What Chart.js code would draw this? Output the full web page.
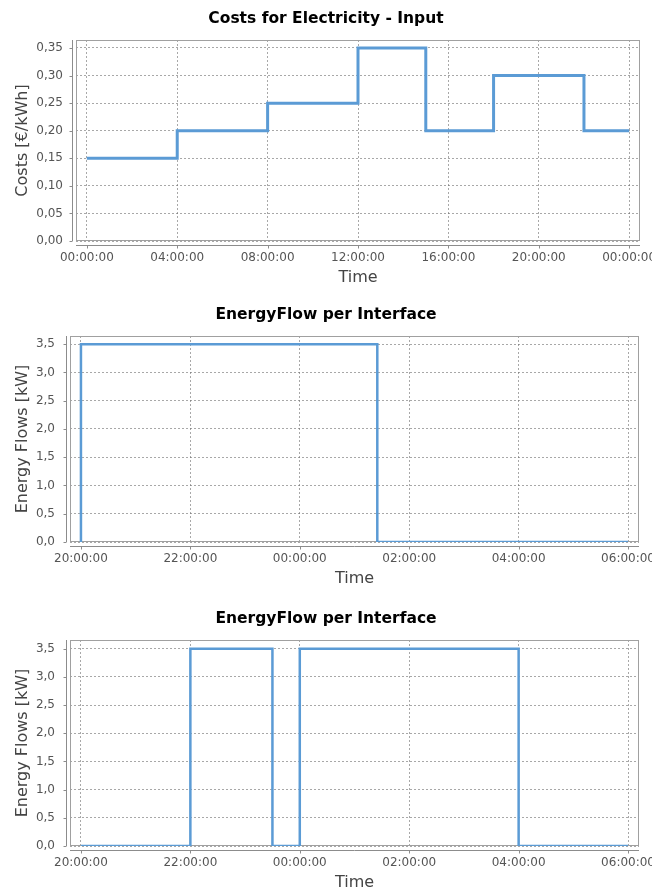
<!DOCTYPE html>
<html>
<head>
<meta charset="utf-8">
<script src="https://cdn.jsdelivr.net/npm/chart.js@4/dist/chart.umd.min.js"></script>
<style>
  html, body { margin: 0; padding: 0; background: #fff; }
  #page { position: relative; width: 666px; height: 893px; background: #fff; }
  #page canvas { position: absolute; left: 0; }
</style>
</head>
<body>
<div id="page">
  <canvas id="costChart"  width="652" height="296" style="top:0px"></canvas>
  <canvas id="flowChartA" width="652" height="304" style="top:296px"></canvas>
  <canvas id="flowChartB" width="652" height="293" style="top:600px"></canvas>
</div>
<script>
// Electricity price per period (start hour of day -> €/kWh), last point closes the day
const costHours  = [0, 4, 8, 12, 15, 18, 22, 24];
const costValues = [0.15, 0.20, 0.25, 0.35, 0.20, 0.30, 0.20, 0.20];

// Energy flow, first interface (hours counted from midnight of the first day, kW)
const flowAHours  = [20, 20, 25 + 25 / 60, 30];
const flowAValues = [0, 3.5, 0, 0];

// Energy flow, second interface
const flowBHours  = [20, 22, 23.5, 24, 28, 30];
const flowBValues = [0, 3.5, 0, 3.5, 0, 0];

// Axis ticks
const costXTicks      = [0, 4, 8, 12, 16, 20, 24];
const costXTickLabels = ['00:00:00', '04:00:00', '08:00:00', '12:00:00', '16:00:00', '20:00:00', '00:00:00'];
const costYTicks      = [0, 0.05, 0.10, 0.15, 0.20, 0.25, 0.30, 0.35];
const costYTickLabels = ['0,00', '0,05', '0,10', '0,15', '0,20', '0,25', '0,30', '0,35'];

const flowXTicks      = [20, 22, 24, 26, 28, 30];
const flowXTickLabels = ['20:00:00', '22:00:00', '00:00:00', '02:00:00', '04:00:00', '06:00:00'];
const flowYTicks      = [0, 0.5, 1.0, 1.5, 2.0, 2.5, 3.0, 3.5];
const flowYTickLabels = ['0,0', '0,5', '1,0', '1,5', '2,0', '2,5', '3,0', '3,5'];

Chart.defaults.font.family = '"DejaVu Sans", Verdana, sans-serif';
Chart.defaults.animation = false;

const LINE_COLOR = 'rgb(91,155,213)';
const GRID_COLOR = 'rgba(110,110,110,0.6)';
const TICK_COLOR = '#555555';

// Plot outline plus offset axis lines with small tick marks
const frameAxes = {
  id: 'frameAxes',
  beforeDatasetsDraw(chart) {
    const { ctx, chartArea: a, scales } = chart;
    ctx.save();
    ctx.lineWidth = 1;
    ctx.strokeStyle = '#a0a0a0';
    ctx.strokeRect(a.left + 0.5, a.top + 0.5, a.right - a.left - 1, a.bottom - a.top - 1);

    ctx.strokeStyle = '#8c8c8c';
    const ax = a.left - 4 + 0.5;
    const ay = a.bottom + 4 + 0.5;
    ctx.beginPath();
    ctx.moveTo(ax, a.top);
    ctx.lineTo(ax, a.bottom);
    ctx.moveTo(a.left, ay);
    ctx.lineTo(a.right, ay);
    scales.y.ticks.forEach(t => {
      const py = Math.round(scales.y.getPixelForValue(t.value)) + 0.5;
      ctx.moveTo(ax - 3, py);
      ctx.lineTo(ax, py);
    });
    scales.x.ticks.forEach(t => {
      const px = Math.round(scales.x.getPixelForValue(t.value)) + 0.5;
      ctx.moveTo(px, ay);
      ctx.lineTo(px, ay + 3);
    });
    ctx.stroke();
    ctx.restore();
  }
};

function makeChart(id, opts) {
  const g = opts.geom;
  const canvas = document.getElementById(id);
  return new Chart(canvas, {
    type: 'line',
    data: {
      datasets: [{
        data: opts.hours.map((h, i) => ({ x: h, y: opts.values[i] })),
        borderColor: LINE_COLOR,
        borderWidth: opts.lineWidth,
        stepped: 'before',
        pointRadius: 0,
        fill: false,
        tension: 0
      }]
    },
    options: {
      responsive: false,
      devicePixelRatio: 1,
      layout: { padding: { left: g.padLeft, right: g.padRight, top: 0, bottom: 0 } },
      plugins: {
        legend: { display: false },
        tooltip: { enabled: false },
        title: {
          display: true,
          text: opts.title,
          color: '#000',
          font: { size: 15.5, weight: 'bold' },
          padding: { top: 10, bottom: 11.4 }
        }
      },
      scales: {
        x: {
          type: 'linear',
          bounds: 'data',
          min: opts.xMin,
          max: opts.xMax,
          afterBuildTicks: s => { s.ticks = opts.xTicks.map(v => ({ value: v })); },
          afterFit: s => { s.height = g.xHeight; s.paddingLeft = 0; s.paddingRight = 0; },
          ticks: {
            autoSkip: false,
            maxRotation: 0,
            minRotation: 0,
            padding: 10,
            color: TICK_COLOR,
            font: { size: 12 },
            callback: (v, i) => opts.xTickLabels[i]
          },
          grid: { color: GRID_COLOR, lineWidth: 1, drawTicks: false },
          border: { display: false, dash: [2, 2] },
          title: {
            display: true,
            text: 'Time',
            color: '#444',
            font: { size: 16 },
            padding: { top: 0, bottom: g.xTitlePad }
          }
        },
        y: {
          type: 'linear',
          bounds: 'data',
          min: 0,
          max: opts.yMax,
          afterBuildTicks: s => { s.ticks = opts.yTicks.map(v => ({ value: v })); },
          afterFit: s => { s.width = g.yWidth; s.paddingTop = 0; s.paddingBottom = 0; },
          ticks: {
            padding: g.yTickPad,
            color: TICK_COLOR,
            font: { size: 12 },
            callback: (v, i) => opts.yTickLabels[i]
          },
          grid: { color: GRID_COLOR, lineWidth: 1, drawTicks: false },
          border: { display: false, dash: [2, 2] },
          title: {
            display: true,
            text: opts.yTitle,
            color: '#444',
            font: { size: 16 },
            padding: { top: g.yTitlePad, bottom: 0 }
          }
        }
      }
    },
    plugins: [frameAxes]
  });
}

makeChart('costChart', {
  title: 'Costs for Electricity - Input',
  yTitle: 'Costs [€/kWh]',
  hours: costHours, values: costValues, lineWidth: 3,
  xMin: -0.48, xMax: 24.48, yMax: 0.3645,
  xTicks: costXTicks, xTickLabels: costXTickLabels,
  yTicks: costYTicks, yTickLabels: costYTickLabels,
  geom: { padLeft: 12, padRight: 12, yWidth: 64, xHeight: 55, xTitlePad: 8.4, yTickPad: 13, yTitlePad: 1 }
});

makeChart('flowChartA', {
  title: 'EnergyFlow per Interface',
  yTitle: 'Energy Flows [kW]',
  hours: flowAHours, values: flowAValues, lineWidth: 2.5,
  xMin: 19.8, xMax: 30.2, yMax: 3.645,
  xTicks: flowXTicks, xTickLabels: flowXTickLabels,
  yTicks: flowYTicks, yTickLabels: flowYTickLabels,
  geom: { padLeft: 13, padRight: 13, yWidth: 57, xHeight: 58, xTitlePad: 11.4, yTickPad: 15, yTitlePad: 0.4 }
});

makeChart('flowChartB', {
  title: 'EnergyFlow per Interface',
  yTitle: 'Energy Flows [kW]',
  hours: flowBHours, values: flowBValues, lineWidth: 2.5,
  xMin: 19.8, xMax: 30.2, yMax: 3.655,
  xTicks: flowXTicks, xTickLabels: flowXTickLabels,
  yTicks: flowYTicks, yTickLabels: flowYTickLabels,
  geom: { padLeft: 13, padRight: 13, yWidth: 57, xHeight: 47, xTitlePad: 0.4, yTickPad: 15, yTitlePad: 0.4 }
});
</script>
</body>
</html>
